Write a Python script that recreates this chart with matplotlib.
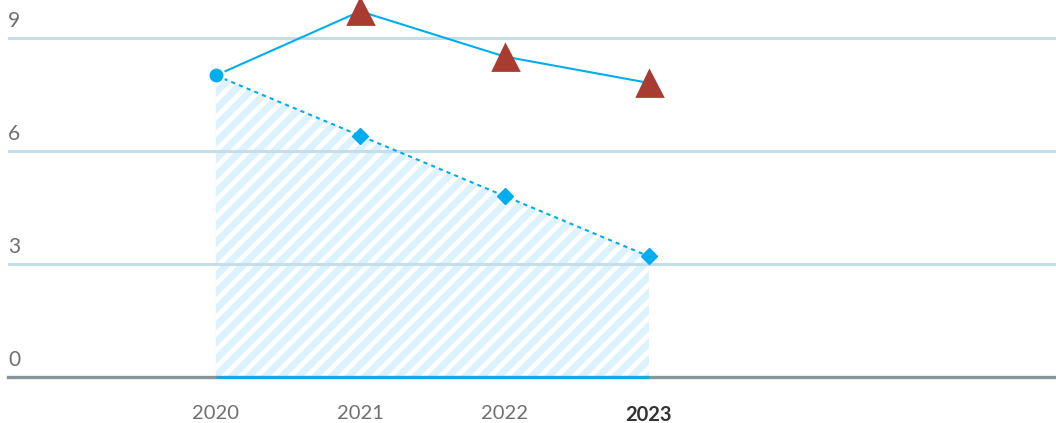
import numpy as np
import matplotlib.pyplot as plt

years = ["2020", "2021", "2022", "2023"]
solid_vals = [8.0, 9.7, 8.5, 7.8]
dotted_vals = [8.0, 6.4, 4.8, 3.2]
y_ticks = [0, 3, 6, 9]

blue = "#00adef"
red = "#a83c31"
grid_c = "#c4dfe9"

plt.rcParams['font.family'] = ['Lato', 'DejaVu Sans']
plt.rcParams['hatch.linewidth'] = 3.5

fig = plt.figure(figsize=(10.56, 4.23), dpi=100)
ax = fig.add_axes([8/1056, 46/423, 1048/1056, 377/423])
x = np.arange(len(years))

ax.set_xlim(-1.44, 5.82)
ax.set_ylim(0, 10)

# hatched area under the dotted series (grid lines sit on top of it)
ax.fill_between(x, 0, dotted_vals, facecolor="#dcf2fc", edgecolor="white",
                hatch='//', linewidth=0, zorder=1)

for v in y_ticks[1:]:
    ax.axhline(v, color=grid_c, lw=2.2, zorder=2)
ax.axhline(0, color="#87949a", lw=2.4, zorder=3, clip_on=False)
ax.plot([x[0], x[-1]], [0, 0], color="#1aa6e2", lw=2.2, zorder=4,
        solid_capstyle='butt', clip_on=False)

# y labels inside the plot
for v in y_ticks:
    ax.annotate(str(v), xy=(0, v), xycoords=('axes fraction', 'data'),
                xytext=(0, 5), textcoords='offset points', ha='left', va='bottom',
                fontsize=15, color="#707070")

ax.plot(x, dotted_vals, color=blue, lw=1.5, ls=(0, (2, 2)), zorder=5)
ax.plot(x[1:], dotted_vals[1:], 'D', color=blue, ms=8.5, zorder=6)

ax.plot(x, solid_vals, color=blue, lw=1.5, zorder=5)
ax.plot(x[0], solid_vals[0], 'o', color=blue, ms=11.5, mec='white', mew=1.5, zorder=7)
ax.plot(x[1:], solid_vals[1:], '^', color=red, ms=18, mec=red, mew=2,
        zorder=7, clip_on=False)

ax.set_xticks(x)
ax.set_xticklabels(years)
ax.tick_params(axis='x', length=0, pad=20, labelsize=14.5, labelcolor="#707070")
last = ax.get_xticklabels()[-1]
last.set_fontweight('bold')
last.set_color("#333333")
ax.set_yticks([])
for s in ax.spines.values():
    s.set_visible(False)

fig.savefig("out.png", dpi=100)
